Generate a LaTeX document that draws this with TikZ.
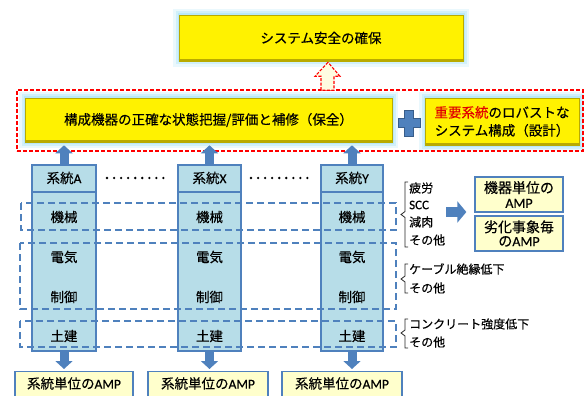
\documentclass[tikz,border=0pt]{standalone}
\usepackage{fontspec}
\setmainfont{Noto Sans CJK JP}[FakeBold=0.35]
\newfontfamily\latf{Carlito}[FakeBold=0.35]
\usetikzlibrary{arrows.meta,calc}
\definecolor{bblue}{RGB}{79,129,189}
\definecolor{dblue}{RGB}{56,93,138}
\definecolor{colfill}{RGB}{183,221,232}
\definecolor{lyellow}{RGB}{255,255,204}
\definecolor{glowc}{RGB}{185,232,248}
\definecolor{ydark}{RGB}{185,170,0}
\definecolor{cream}{RGB}{255,252,225}
\definecolor{jred}{RGB}{225,0,0}
\begin{document}
\begin{tikzpicture}[x=1pt,y=-1pt, font=\fontsize{13.5}{15}\selectfont,
 ybox/.style={fill=yellow, draw=ydark, line width=0.6pt, inner sep=0pt, align=center,
   preaction={draw=glowc, line width=12pt, opacity=0.3},
   preaction={draw=glowc, line width=7pt, opacity=0.5},
   preaction={draw=glowc, line width=3pt}},
 col/.style={fill=colfill, draw=bblue, line width=1.3pt, minimum width=63pt, minimum height=186pt, inner sep=0pt},
 lbox/.style={fill=lyellow, draw=bblue, line width=1.3pt, inner sep=0pt, align=center},
 band/.style={draw=bblue, line width=1.1pt, dash pattern=on 7pt off 4pt},
 barrow/.style={draw=bblue, line width=9pt, -{Triangle[width=17pt,length=8pt]}},
 bracepath/.style={draw=black!85, line width=0.8pt},
 small/.style={font=\fontsize{12}{14}\selectfont, anchor=west, inner sep=0pt},
 dotrow/.style={draw=black, line width=2.6pt, line cap=round, dash pattern=on 0pt off 7.05pt},
]
\useasboundingbox (0,0) rectangle (584,396);

% top goal box
\node[ybox, minimum width=284pt, minimum height=46pt] (top) at (321,38) {システム安全の確保};
\draw[ydark, line width=2pt] ([yshift=1pt]top.south west) -- ([yshift=1pt]top.south east);

% maintenance and design boxes
\node[ybox, minimum width=367pt, minimum height=44pt] (main) at (208.5,120) {構成機器の正確な状態把握/評価と補修（保全）};
\draw[ydark, line width=2pt] ([yshift=1pt]main.south west) -- ([yshift=1pt]main.south east);
\node[ybox, minimum width=154pt, minimum height=47pt, font=\fontsize{13.5}{18}\selectfont] (robust) at (502,121.5) {\textcolor{jred}{重要系統}のロバストな\\システム構成（設計）};
\draw[ydark, line width=2pt] ([yshift=1pt]robust.south west) -- ([yshift=1pt]robust.south east);

% plus sign
\fill[bblue, draw=dblue, line width=0.6pt] (404.5,110) -- (413.5,110) -- (413.5,118.5) -- (420,118.5) -- (420,127.5) -- (413.5,127.5) -- (413.5,136) -- (404.5,136) -- (404.5,127.5) -- (398,127.5) -- (398,118.5) -- (404.5,118.5) -- cycle;

% red dashed group
\node[draw=red, line width=1.2pt, dash pattern=on 4pt off 2pt, minimum width=566pt, minimum height=61pt, inner sep=0pt] (grp) at (300,120.5) {};

% hollow up arrow
\coordinate (ha) at (328,0);
\draw[red, fill=cream, line width=1.1pt, dash pattern=on 3pt off 1.5pt, line join=miter]
  ($(ha |- top.south)+(0,1)$) -- ++(-13,14) -- ++(6,0) -- ++(0,14) -- ++(13,0) -- ++(0,-14) -- ++(6,0) -- cycle;

% columns
\node[col, minimum width=64pt] (cA) at (64,258) {};
\node[col] (cX) at (209.5,258) {};
\node[col, minimum width=62pt] (cY) at (352,258) {};
\coordinate (hline) at (0,192);
\coordinate (r0) at (0,178);
\coordinate (r1) at (0,217);
\coordinate (r2) at (0,257);
\coordinate (r3) at (0,297);
\coordinate (r4) at (0,336);
\foreach \c/\n in {cA/A,cX/X,cY/Y}{
  \draw[bblue, line width=1.3pt] (\c.west |- hline) -- (\c.east |- hline);
  \node (\c-h) at (\c.center |- r0) {系統\latf{\n}};
  \node (\c-m) at (\c.center |- r1) {機械};
  \node (\c-e) at (\c.center |- r2) {電気};
  \node (\c-c) at (\c.center |- r3) {制御};
  \node (\c-d) at (\c.center |- r4) {土建};
}

% dots between columns
\draw[dotrow] (107,178) -- (164,178);
\draw[dotrow] (251,178) -- (308,178);

% dashed bands
\draw[band] (21,203) rectangle (396,230);
\draw[band] (20,243) rectangle (396,309);
\draw[band] (20,321) rectangle (396,347);

% up arrows
\foreach \c in {cA,cX,cY}{
  \draw[barrow] (\c.north) -- ($(\c.north |- main.south)+(0,3)$);
}

% braces
\draw[bracepath] (408,182) -- (405,182) -- (405,211.5) -- (401,214.5) -- (405,217.5) -- (405,247) -- (408,247);
\draw[bracepath] (408,264) -- (405,264) -- (405,276) -- (401,279) -- (405,282) -- (405,293) -- (408,293);
\draw[bracepath] (408,319) -- (405,319) -- (405,330) -- (401,333) -- (405,336) -- (405,348) -- (408,348);

\node[small] (t1) at (409,188) {疲労};
\node[small] (t2) at (409,205) {\latf\fontsize{13}{14}\selectfont SCC};
\node[small] (t3) at (409,222) {減肉};
\node[small] (t4) at (409,240) {その他};
\node[small] (t5) at (409,269) {ケーブル絶縁低下};
\node[small] (t6) at (409,288) {その他};
\node[small] (t7) at (409,324) {コンクリート強度低下};
\node[small] (t8) at (409,342) {その他};

% right boxes
\node[lbox, minimum width=88pt, minimum height=35pt, font=\fontsize{14}{15}\selectfont] (rb1) at (519,194.5) {機器単位の\\\latf AMP};
\node[lbox, minimum width=88pt, minimum height=35pt, font=\fontsize{14}{14}\selectfont] (rb2) at (519,233.5) {劣化事象毎\\の\latf AMP};
\coordinate (ra) at (446,212);
\draw[barrow, line width=10pt, -{Triangle[width=21pt,length=9pt]}] (ra) -- ($(ra -| rb1.west)+(-8,0)$);

% bottom boxes
\node[lbox, minimum width=118pt, minimum height=30pt, anchor=north] (b1) at (74,371) {};
\node[lbox, minimum width=120pt, minimum height=30pt, anchor=north] (b2) at (208,371) {};
\node[lbox, minimum width=120pt, minimum height=30pt, anchor=north] (b3) at (342,371) {};
\foreach \b in {b1,b2,b3}{
  \node (\b-t) at ([yshift=-12.5pt]\b.north) {系統単位の\latf{AMP}};
}
\draw[barrow] (cA.south) -- ($(cA.south |- b1.north)+(0,-2)$);
\draw[barrow] (cX.south) -- ($(cX.south |- b2.north)+(0,-2)$);
\draw[barrow] (cY.south) -- ($(cY.south |- b3.north)+(0,-2)$);
\end{tikzpicture}
\end{document}
